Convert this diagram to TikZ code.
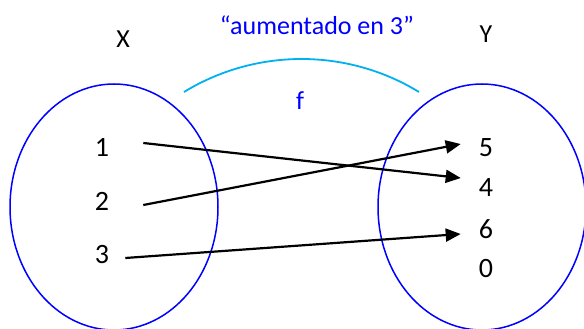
\documentclass[tikz,border=0pt]{standalone}
\usepackage{fontspec}
\setmainfont{Carlito}
\usetikzlibrary{arrows.meta, shapes.geometric}

\definecolor{setblue}{RGB}{0,0,255}
\definecolor{arccyan}{RGB}{0,176,240}

\begin{document}
\begin{tikzpicture}[
		x=1pt, y=-1pt,
		font=\fontsize{26}{30}\selectfont,
		setoval/.style={ellipse, draw=setblue, line width=1.5pt, minimum width=208pt, minimum height=246pt, inner sep=0pt},
		elem/.style={inner sep=0pt, font=\fontsize{28}{32}\selectfont},
		target/.style={elem, inner xsep=18pt},
		mapsto/.style={-{Triangle[length=15pt, width=13pt]}, line width=2.2pt, black},
		bluetext/.style={text=setblue}
		]
		\useasboundingbox (0,0) rectangle (584,329);
		
		% ==========================================
		% 1. SETS X AND Y
		% ==========================================
		\node[setoval] (setX) at (114,207) {};
		\node[setoval] (setY) at (482,207) {};
		\node (labX) at (123,39) {X};
		\node (labY) at (486,34) {Y};
		
		% the function f over the two sets
		\draw[arccyan, line width=1.8pt] (184,92) .. controls (256,48) and (347,48) .. (419,92);
		\node[bluetext] (rule) at (317,25) {“aumentado en 3”};
		\node[bluetext] (fname) at (300,101) {f};
		
		% ==========================================
		% 2. ELEMENTS
		% ==========================================
		\node[elem] (x1) at (102,147) {1};
		\node[elem] (x2) at (102,201) {2};
		\node[elem] (x3) at (102,255) {3};
		
		\node[target] (y5) at (486,148) {5};
		\node[target] (y4) at (486,188) {4};
		\node[target] (y6) at (486,229) {6};
		\node[target] (y0) at (486,269) {0};
		
		% ==========================================
		% 3. ARROWS
		% ==========================================
		\draw[mapsto] ([xshift=34pt, yshift=4pt]x1.east) -- ([yshift=10pt]y4.west);
		\draw[mapsto] ([xshift=34pt, yshift=-4pt]x2.east) -- ([yshift=4pt]y5.west);
		\draw[mapsto] ([xshift=16pt, yshift=-3pt]x3.east) -- ([yshift=-5pt]y6.west);
		
	\end{tikzpicture}
\end{document}
